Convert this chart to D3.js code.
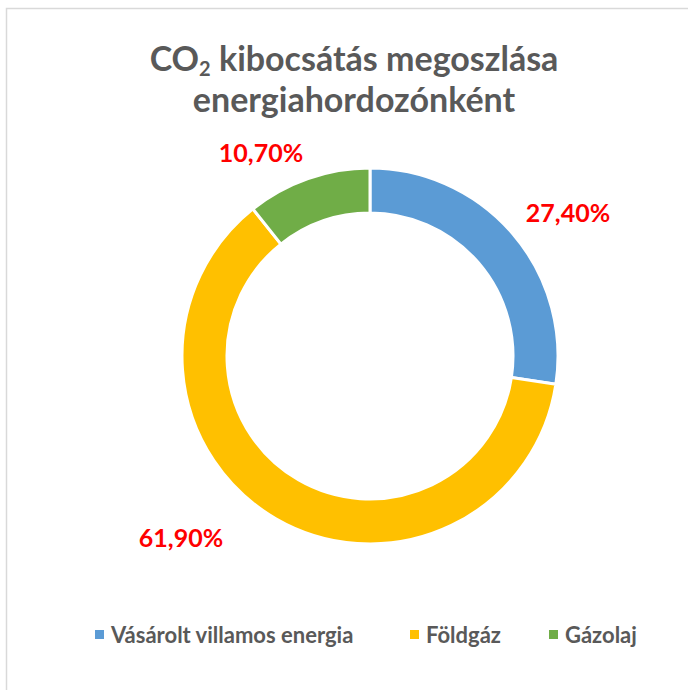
<!DOCTYPE html>
<html>
<head>
<meta charset="utf-8">
<script src="https://cdn.jsdelivr.net/npm/d3@7"></script>
<style>
  body { margin: 0; background: #fff; }
  svg { display: block; font-family: Lato, "Open Sans", sans-serif; }
</style>
</head>
<body>
<div class="canvas"></div>
<script>
// data
const categories = ['Vásárolt villamos energia', 'Földgáz', 'Gázolaj'];
const values = [27.4, 61.9, 10.7];
const labels = ['27,40%', '61,90%', '10,70%'];
const colors = ['#5b9bd5', '#ffc000', '#70ad47'];

const width = 688, height = 690;
const cx = 370, cy = 356;
const outerR = 188, innerR = 143;

// label offsets from centre (Excel placed them by hand)
const labelOffsets = [[198, -144], [-189, 181], [-109, -204]];

const svg = d3.select('.canvas')
    .append('svg')
    .attr('width', width)
    .attr('height', height);

// chart area border (left + top visible)
svg.append('rect')
    .attr('x', 6.5)
    .attr('y', 8.5)
    .attr('width', 720)
    .attr('height', 720)
    .attr('fill', 'none')
    .attr('stroke', '#d9d9d9')
    .attr('stroke-width', 1.5);

// title
const title = svg.append('text')
    .attr('text-anchor', 'middle')
    .attr('fill', '#595959')
    .style('font-size', '34px')
    .style('font-weight', 'bold');

const line1 = title.append('tspan').attr('x', 354).attr('y', 71);
line1.append('tspan').text('CO');
line1.append('tspan').attr('dy', 5).style('font-size', '20px').text('2');
line1.append('tspan').attr('dy', -5).text(' kibocsátás megoszlása');
title.append('tspan').attr('x', 354).attr('y', 112).text('energiahordozónként');

// donut
const pie = d3.pie().sort(null).value(d => d);
const arc = d3.arc().innerRadius(innerR).outerRadius(outerR);

const graph = svg.append('g')
    .attr('transform', `translate(${cx},${cy})`);

const arcs = pie(values);

graph.selectAll('path')
    .data(arcs)
    .enter()
    .append('path')
    .attr('d', arc)
    .attr('fill', (d, i) => colors[i])
    .attr('stroke', '#fff')
    .attr('stroke-width', 3);

graph.selectAll('text.lbl')
    .data(arcs)
    .enter()
    .append('text')
    .attr('class', 'lbl')
    .attr('x', (d, i) => labelOffsets[i][0])
    .attr('y', (d, i) => labelOffsets[i][1])
    .attr('text-anchor', 'middle')
    .attr('dominant-baseline', 'central')
    .attr('fill', '#ff0000')
    .style('font-size', '25px')
    .style('font-weight', 'bold')
    .text((d, i) => labels[i]);

// legend
const legendX = [95, 410, 549];
const legend = svg.append('g');
const items = legend.selectAll('g')
    .data(categories)
    .enter()
    .append('g')
    .attr('transform', (d, i) => `translate(${legendX[i]},630)`);

items.append('rect')
    .attr('width', 9)
    .attr('height', 9)
    .attr('fill', (d, i) => colors[i]);

items.append('text')
    .attr('x', 16)
    .attr('y', 4.5)
    .attr('dominant-baseline', 'central')
    .attr('fill', '#595959')
    .style('font-size', '22px')
    .style('font-weight', 'bold')
    .text(d => d);
</script>
</body>
</html>
